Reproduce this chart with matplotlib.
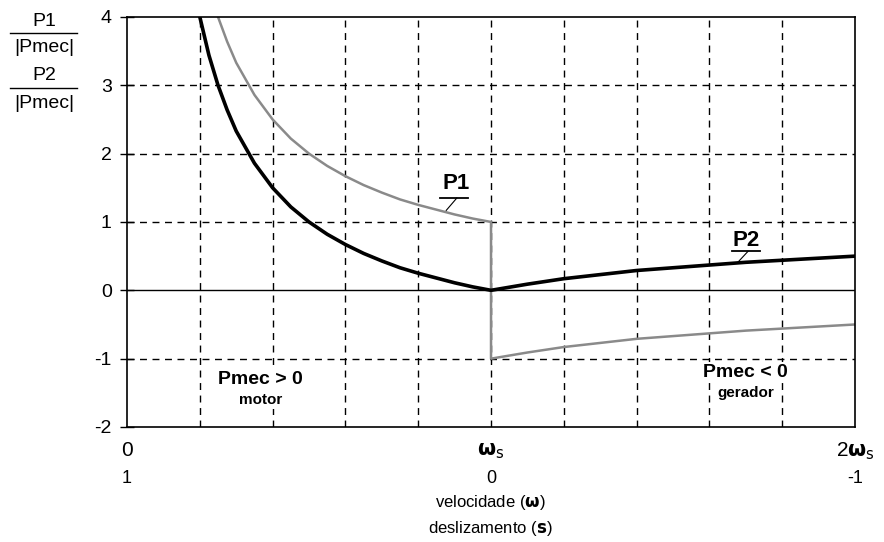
import matplotlib
matplotlib.use("Agg")
import matplotlib.pyplot as plt

plt.rcParams["font.family"] = ["Liberation Sans", "DejaVu Sans"]

# values (x = omega / omega_s)
motor_x_p2 = [0.2, 0.225, 0.25, 0.275, 0.3, 0.35, 0.4, 0.45, 0.5, 0.55, 0.6, 0.65,
              0.7, 0.75, 0.8, 0.85, 0.9, 0.95, 1.0]
motor_p2 = [4.0, 3.44, 3.0, 2.64, 2.33, 1.86, 1.5, 1.22, 1.0, 0.82, 0.67, 0.54,
            0.43, 0.33, 0.25, 0.18, 0.11, 0.05, 0.0]

motor_x_p1 = [0.25, 0.275, 0.3, 0.35, 0.4, 0.45, 0.5, 0.55, 0.6, 0.65, 0.7, 0.75,
              0.8, 0.85, 0.9, 0.95, 1.0]
motor_p1 = [4.0, 3.64, 3.33, 2.86, 2.5, 2.22, 2.0, 1.82, 1.67, 1.54, 1.43, 1.33,
            1.25, 1.18, 1.11, 1.05, 1.0]

gen_x = [1.0, 1.1, 1.2, 1.3, 1.4, 1.5, 1.6, 1.7, 1.8, 1.9, 2.0]
gen_p1 = [-1.0, -0.91, -0.83, -0.77, -0.71, -0.67, -0.63, -0.59, -0.56, -0.53, -0.5]
gen_p2 = [0.0, 0.09, 0.17, 0.23, 0.29, 0.33, 0.37, 0.41, 0.44, 0.47, 0.5]

x_grid = [0.2, 0.4, 0.6, 0.8, 1.0, 1.2, 1.4, 1.6, 1.8]
y_ticks = [-2, -1, 0, 1, 2, 3, 4]
x_top_labels = ["0", r"$\mathbf{\omega}_\mathrm{s}$", r"2$\mathbf{\omega}_\mathrm{s}$"]
x_bot_labels = ["1", "0", "-1"]
x_label_pos = [0.0, 1.0, 2.0]

fig = plt.figure(figsize=(8.84, 5.42), dpi=100)
ax = fig.add_axes([0.1437, 0.2122, 0.8235, 0.7565])
ax.set_xlim(0, 2)
ax.set_ylim(-2, 4)

grid_kw = dict(color="black", linestyle=(0, (5, 4)), linewidth=1.0, zorder=1)
for gx in x_grid:
    ax.axvline(gx, **grid_kw)
for gy in [-1, 1, 2, 3]:
    ax.axhline(gy, **grid_kw)
ax.axhline(0, color="black", linewidth=1.0, zorder=1)

# P1 (grey, thin) with the jump at synchronous speed
ax.plot(motor_x_p1 + gen_x, motor_p1 + gen_p1, color="#8a8a8a", linewidth=1.8,
        zorder=2)
# P2 (black, thick)
ax.plot(motor_x_p2 + gen_x[1:], motor_p2 + gen_p2[1:], color="black",
        linewidth=2.6, zorder=3)

for s in ax.spines.values():
    s.set_linewidth(1.2)

ax.set_yticks(y_ticks)
ax.set_yticklabels([str(v) for v in y_ticks], fontsize=14)
ax.tick_params(axis="y", direction="inout", length=10, width=1, pad=6)
ax.set_xticks([])

# x tick labels (speed and slip)
for xp, t, b in zip(x_label_pos, x_top_labels, x_bot_labels):
    ax.text(xp, -2.35, t, ha="center", va="center", fontsize=15, clip_on=False)
    ax.text(xp, -2.75, b, ha="center", va="center", fontsize=13, clip_on=False)

fig.text(490 / 884, 1 - 503 / 542, r"velocidade ($\mathbf{\omega}$)", ha="center",
         va="center", fontsize=12)
fig.text(490 / 884, 1 - 528 / 542, r"deslizamento ($\mathbf{s}$)", ha="center",
         va="center", fontsize=12)

# y label as two fractions
for yc, name in [(21, "P1"), (76, "P2")]:
    fig.text(44 / 884, 1 - yc / 542, name, ha="center", va="center", fontsize=14)
    fig.add_artist(plt.Line2D([10 / 884, 77 / 884], [1 - (yc + 12) / 542] * 2,
                              color="black", linewidth=1))
    fig.text(44 / 884, 1 - (yc + 27) / 542, "|Pmec|", ha="center", va="center",
             fontsize=14)

# curve labels with leader lines
ax.text(0.905, 1.56, "P1", ha="center", va="center", fontsize=16, fontweight="bold")
ax.plot([0.86, 0.937], [1.35, 1.35], color="black", linewidth=1.3)
ax.plot([0.906, 0.877], [1.35, 1.17], color="black", linewidth=0.8)
ax.text(1.70, 0.73, "P2", ha="center", va="center", fontsize=16, fontweight="bold")
ax.plot([1.662, 1.74], [0.57, 0.57], color="black", linewidth=1.3)
ax.plot([1.706, 1.678], [0.57, 0.41], color="black", linewidth=0.8)

box = dict(facecolor="white", edgecolor="none", pad=1.5)
ax.text(0.366, -1.3, "Pmec > 0", ha="center", va="center", fontsize=14,
        fontweight="bold", bbox=box, zorder=4)
ax.text(0.366, -1.6, "motor", ha="center", va="center", fontsize=11,
        fontweight="bold", bbox=box, zorder=4)
ax.text(1.70, -1.2, "Pmec < 0", ha="center", va="center", fontsize=14,
        fontweight="bold", bbox=box, zorder=4)
ax.text(1.70, -1.5, "gerador", ha="center", va="center", fontsize=11,
        fontweight="bold", bbox=box, zorder=4)

fig.savefig("out.png", dpi=100)
